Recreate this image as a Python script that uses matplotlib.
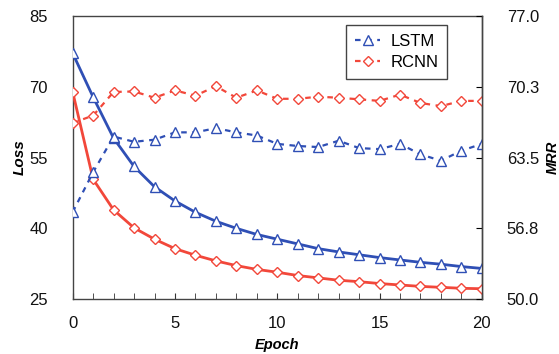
import matplotlib
matplotlib.use("Agg")
import matplotlib.pyplot as plt

epochs = list(range(21))
loss_lstm = [77.1, 67.8, 59.1, 53.1, 48.8, 45.8, 43.4, 41.5, 40.0, 38.7, 37.7,
             36.7, 35.7, 35.0, 34.4, 33.8, 33.3, 32.8, 32.4, 31.9, 31.5]
loss_rcnn = [68.9, 50.4, 43.9, 40.1, 37.7, 35.7, 34.3, 33.1, 32.1, 31.3, 30.7,
             30.0, 29.5, 29.0, 28.7, 28.3, 28.0, 27.7, 27.5, 27.3, 27.2]
mrr_lstm = [58.3, 62.1, 65.5, 65.0, 65.2, 65.9, 65.9, 66.3, 65.9, 65.6, 64.8,
            64.6, 64.5, 65.1, 64.4, 64.3, 64.8, 63.8, 63.2, 64.15, 64.8]
mrr_rcnn = [66.8, 67.5, 69.75, 69.8, 69.2, 69.9, 69.4, 70.3, 69.2, 69.9, 69.1,
            69.1, 69.3, 69.2, 69.05, 68.9, 69.5, 68.7, 68.4, 68.9, 68.9]
loss_ticks = [25, 40, 55, 70, 85]
mrr_ticks = [50.0, 56.75, 63.5, 70.25, 77.0]
mrr_labels = ["50.0", "56.8", "63.5", "70.3", "77.0"]
x_ticks = [0, 5, 10, 15, 20]

plt.rcParams['font.family'] = ['Liberation Sans', 'DejaVu Sans']
blue = "#2f4fb5"
red = "#f2473a"

fig = plt.figure(figsize=(5.59, 3.54), dpi=100)
ax = fig.add_axes([0.130, 0.155, 0.732, 0.800])
ax2 = ax.twinx()

ms = 6.5
ax.plot(epochs, loss_lstm, color=blue, lw=2.0, marker='^', ms=ms,
        mfc='white', mec=blue, mew=1.0, zorder=3)
ax.plot(epochs, loss_rcnn, color=red, lw=2.0, marker='D', ms=5.5,
        mfc='white', mec=red, mew=1.0, zorder=3)
l1, = ax2.plot(epochs, mrr_lstm, color=blue, lw=1.6, ls=(0, (2.5, 2.5)), marker='^',
               ms=ms, mfc='white', mec=blue, mew=1.0, label='LSTM')
l2, = ax2.plot(epochs, mrr_rcnn, color=red, lw=1.6, ls=(0, (2.5, 2.5)), marker='D',
               ms=5.5, mfc='white', mec=red, mew=1.0, label='RCNN')

ax.set_xlim(0, 20)
ax.set_ylim(25, 85)
ax2.set_ylim(50, 77)
ax.set_xticks(x_ticks)
ax.set_xticks(epochs, minor=True)
ax.set_yticks(loss_ticks)
ax2.set_yticks(mrr_ticks)
ax2.set_yticklabels(mrr_labels)

ax.tick_params(axis='both', which='both', direction='in', labelsize=12, colors='#333333', labelcolor='#111111')
ax.tick_params(axis='y', pad=18, length=0)
ax.tick_params(axis='x', which='major', pad=12, length=4)
ax.tick_params(axis='x', which='minor', length=4)
ax2.tick_params(axis='y', direction='in', pad=18, length=4, labelsize=12, labelcolor='#111111')

for a in (ax, ax2):
    for s in a.spines.values():
        s.set_color('#444444')
        s.set_linewidth(1.0)
ax2.spines['top'].set_visible(False)
ax2.spines['left'].set_visible(False)
ax2.spines['bottom'].set_visible(False)

ax.set_xlabel('Epoch', fontsize=10.5, fontweight='bold', fontstyle='italic', labelpad=5)
ax.set_ylabel('Loss', fontsize=11, fontweight='bold', fontstyle='italic', labelpad=2)
ax2.set_ylabel('MRR', fontsize=10.5, fontweight='bold', fontstyle='italic', labelpad=5, rotation=90)

leg = ax2.legend(handles=[l1, l2], loc='upper left', bbox_to_anchor=(0.668, 0.968),
                 borderaxespad=0, fontsize=12, handlelength=1.5, handletextpad=0.6,
                 borderpad=0.55, labelspacing=0.35,
                 fancybox=False, edgecolor='#444444', framealpha=1)
leg.get_frame().set_linewidth(1.0)

fig.savefig('out.png', dpi=100)
